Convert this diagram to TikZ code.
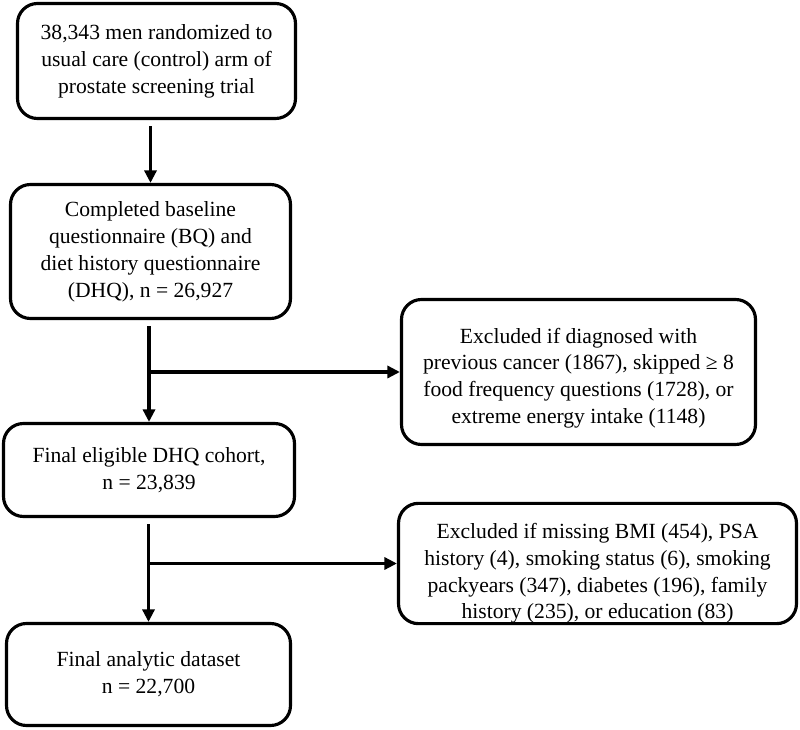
\documentclass[tikz,border=0pt]{standalone}
\usepackage{fontspec}
\setmainfont{Liberation Serif}
\usetikzlibrary{arrows.meta, positioning}

\begin{document}
\begin{tikzpicture}[line width=1.8pt,
 box/.style={rectangle, rounded corners=0.4cm, draw, align=center, inner sep=0pt,
  font=\fontsize{12.3pt}{15.3pt}\selectfont},
 arr/.style={-{Triangle[length=0.25cm,width=0.24cm]}}]
  \useasboundingbox (0,0) rectangle (16,14.58);

  \node[box, minimum width=5.56cm, minimum height=2.3cm] (rand) at (3.13,13.36)
   {38,343 men randomized to\\usual care (control) arm of\\prostate screening trial};
  \node[box, minimum width=5.6cm, minimum height=2.68cm] (base) at (3.01,9.55)
   {Completed baseline\\questionnaire (BQ) and\\diet history questionnaire\\(DHQ), n = 26,927};
  \node[box, minimum width=5.82cm, minimum height=1.86cm] (elig) at (2.98,5.18)
   {Final eligible DHQ cohort,\\n = 23,839};
  \node[box, minimum width=5.68cm, minimum height=2.04cm] (final) at (2.97,1.09)
   {Final analytic dataset\\n = 22,700};
  \node[box, minimum width=7.08cm, minimum height=2.9cm] (excl1) at (11.57,7.14)
   {\rule{0pt}{0.55cm}Excluded if diagnosed with\\previous cancer (1867), skipped ≥ 8\\food frequency questions (1728), or\\extreme energy intake (1148)};
  \node[box, minimum width=7.96cm, minimum height=2.36cm] (excl2) at (11.95,3.31)
   {\rule{0pt}{0.7cm}Excluded if missing BMI (454), PSA\\history (4), smoking status (6), smoking\\packyears (347), diabetes (196), family\\history (235), or education (83)};

  \foreach \s/\t in {rand/base, base/elig, elig/final} {
   \draw[arr, shorten <=0.12cm] (\s.south -| \t.north) -- (\t.north);}
  \foreach \s/\t in {elig/excl1, final/excl2} {
   \draw[arr] (\t.west -| \s.north) -- (\t.west);}
\end{tikzpicture}
\end{document}
